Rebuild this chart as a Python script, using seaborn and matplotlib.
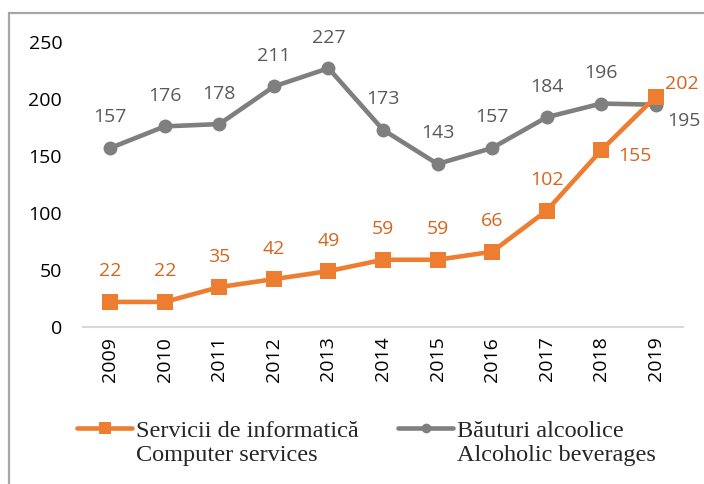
import matplotlib
matplotlib.use("Agg")
import matplotlib.pyplot as plt
from matplotlib.patches import Rectangle
from matplotlib.lines import Line2D
import seaborn as sns
import pandas as pd

years = ["2009", "2010", "2011", "2012", "2013", "2014", "2015", "2016", "2017", "2018", "2019"]
computer = [22, 22, 35, 42, 49, 59, 59, 66, 102, 155, 202]
alcohol = [157, 176, 178, 211, 227, 173, 143, 157, 184, 196, 195]
label_computer = ["Servicii de informatică", "Computer services"]
label_alcohol = ["Băuturi alcoolice", "Alcoholic beverages"]
yticks = [0, 50, 100, 150, 200, 250]

ORANGE = "#ED7D31"
ORANGE_TXT = "#D8641C"
GRAY = "#7F7F7F"
GRAY_TXT = "#595959"

sns.set_theme(style="white")
plt.rcParams["font.family"] = ["Open Sans", "DejaVu Sans"]

df = pd.DataFrame({"year": years, "computer": computer, "alcohol": alcohol})

fig = plt.figure(figsize=(7.04, 4.84), dpi=100)
ax = fig.add_axes([83 / 704, 1 - 327 / 484, 600 / 704, 285 / 484])

sns.lineplot(data=df, x="year", y="alcohol", ax=ax, color=GRAY, lw=3.3,
             marker="o", markersize=10, markeredgewidth=0, sort=False)
sns.lineplot(data=df, x="year", y="computer", ax=ax, color=ORANGE, lw=3.3,
             marker="s", markersize=11, markeredgewidth=0, sort=False)

ax.set_xlim(-0.5, len(years) - 0.5)
ax.set_ylim(0, 250)
ax.set_yticks(yticks)
ax.set_xlabel("")
ax.set_ylabel("")
for s in ["top", "right", "left"]:
    ax.spines[s].set_visible(False)
ax.spines["bottom"].set_color("#d9d9d9")
ax.spines["bottom"].set_linewidth(1.5)
ax.tick_params(axis="x", rotation=90, labelsize=14, colors="black", length=0, pad=7)
ax.tick_params(axis="y", labelsize=14, colors="black", length=0, pad=15)

# data labels
for i, v in enumerate(computer):
    if i == len(years) - 2:
        off = (24, -4)
    elif i == len(years) - 1:
        off = (19, 9)
    else:
        off = (0, 22)
    ax.annotate(str(v), (i, v), xytext=off, textcoords="offset points",
                ha="center", va="center", fontsize=14, color=ORANGE_TXT)
for i, v in enumerate(alcohol):
    if i == len(years) - 1:
        off = (20, -12)
    else:
        off = (0, 22)
    ax.annotate(str(v), (i, v), xytext=off, textcoords="offset points",
                ha="center", va="center", fontsize=14, color=GRAY_TXT)

blank = Line2D([], [], color="none", lw=0)
handles = [
    Line2D([], [], color=ORANGE, lw=3.3, marker="s", markersize=8, markeredgewidth=0),
    blank,
    Line2D([], [], color=GRAY, lw=3.3, marker="o", markersize=7, markeredgewidth=0),
    blank,
]
labels = [label_computer[0], label_computer[1], label_alcohol[0], label_alcohol[1]]
leg = fig.legend(handles, labels, ncol=2, frameon=False,
                 loc="center left", bbox_to_anchor=(77 / 704, 1 - 443 / 484),
                 prop={"family": ["Liberation Serif", "DejaVu Serif"], "size": 17.5},
                 handlelength=2.27, handletextpad=0.17, columnspacing=1.6,
                 labelspacing=0.12, borderpad=0, borderaxespad=0)

fig.add_artist(Rectangle((9 / 704, -0.1), 1.2, 1 - 13 / 484 + 0.1,
                         transform=fig.transFigure, fill=False,
                         ec="#a6a6a6", lw=1.6))

fig.savefig("out.png", dpi=100)
